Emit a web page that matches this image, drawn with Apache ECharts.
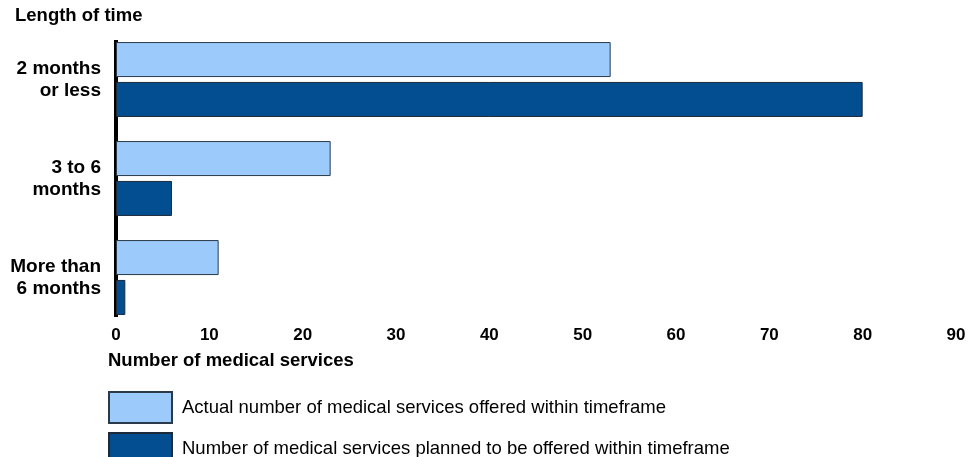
<!DOCTYPE html>
<html><head><meta charset="utf-8">
<script src="https://cdn.jsdelivr.net/npm/echarts@6/dist/echarts.min.js"></script>
<style>html,body{margin:0;padding:0;background:#fff}#c{width:969px;height:457px}</style>
</head><body><div id="c"></div>
<script>
const categories = ['2 months\nor less', '3 to 6\nmonths', 'More than\n6 months'];
const actualValues = [53, 23, 11];
const plannedValues = [80, 6, 1];
const seriesNames = ['Actual number of medical services offered within timeframe', 'Number of medical services planned to be offered within timeframe'];
const xTicks = [0, 10, 20, 30, 40, 50, 60, 70, 80, 90];

const chart = echarts.init(document.getElementById('c'));
const sans = '"Liberation Sans", Arial, sans-serif';
const legendBase = {
  orient: 'vertical', left: 103, itemWidth: 63, itemHeight: 31, icon: 'rect',
  textStyle: {fontFamily: sans, fontSize: 18.5, color: '#000', padding: [0, 0, 0, 5]}
};
chart.setOption({
  animation: false,
  graphic: [
    {type: 'text', left: 15, top: 6, style: {text: 'Length of time', font: 'bold 18.5px ' + sans, fill: '#000'}},
    {type: 'text', left: 108, top: 351, style: {text: 'Number of medical services', font: 'bold 18.5px ' + sans, fill: '#000'}},
    {type: 'line', shape: {x1: 116, y1: 40, x2: 116, y2: 317}, style: {stroke: '#000', lineWidth: 4}}
  ],
  grid: {left: 116, right: 13, top: 30, bottom: 130, containLabel: false},
  legend: [
    Object.assign({}, legendBase, {top: 386, data: [seriesNames[0]]}),
    Object.assign({}, legendBase, {top: 427, data: [seriesNames[1]]})
  ],
  xAxis: {
    type: 'value', min: 0, max: 90, interval: 10,
    axisLine: {show: false}, axisTick: {show: false}, splitLine: {show: false},
    axisLabel: {margin: 0, fontFamily: sans, fontWeight: 'bold', fontSize: 17, color: '#000',
      formatter: v => xTicks.includes(v) ? String(v) : ''}
  },
  yAxis: {
    type: 'category', data: categories, inverse: true,
    axisLine: {show: false}, axisTick: {show: false},
    axisLabel: {margin: 15, fontFamily: sans, fontWeight: 'bold', fontSize: 19, lineHeight: 22, color: '#000', align: 'right'}
  },
  series: [
    {name: seriesNames[0], type: 'bar', data: actualValues, barWidth: 35, barGap: '14%',
     itemStyle: {color: '#9CCBFB', borderColor: '#2b3a4a', borderWidth: 1}},
    {name: seriesNames[1], type: 'bar', data: plannedValues, barWidth: 35,
     itemStyle: {color: '#034E91', borderColor: '#1c2a3a', borderWidth: 1}}
  ]
});
</script></body></html>
